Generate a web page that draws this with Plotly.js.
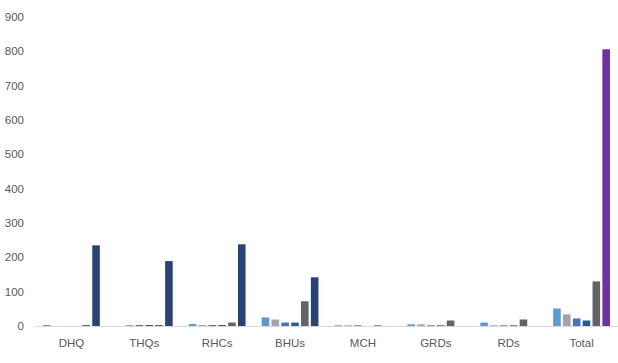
<!DOCTYPE html>
<html>
<head>
<meta charset="utf-8">
<script src="https://cdn.plot.ly/plotly-3.0.1.min.js"></script>
<style>html,body{margin:0;padding:0;background:#fff;}#chart{width:618px;height:363px;}</style>
</head>
<body>
<div id="chart"></div>
<script>
const categories = ["DHQ", "THQs", "RHCs", "BHUs", "MCH", "GRDs", "RDs", "Total"];
const series1 = [3, 0, 6, 25, 2, 5, 10, 51];
const series2 = [0, 3, 3, 19, 2, 5, 2, 34];
const series3 = [0, 3, 3, 10, 2, 2, 2, 22];
const series4 = [0, 3, 3, 10, 0, 2, 2, 16];
const series5 = [3, 3, 10, 72, 2, 16, 19, 130];
const series6 = [235, 189, 238, 142, 0, 0, 0, 806];
const yTicks = [0, 100, 200, 300, 400, 500, 600, 700, 800, 900];

const colors = ["#5B9BD5", "#A5A5A5", "#4472C4", "#255E91", "#636363"];
const allSeries = [series1, series2, series3, series4, series5];
const traces = allSeries.map((s, i) => ({
  type: "bar", x: categories, y: s, name: "S" + (i + 1),
  marker: {color: colors[i]}, hoverinfo: "none"
}));
traces.push({
  type: "bar", x: categories, y: series6, name: "S6",
  marker: {color: categories.map(c => c === "Total" ? "#7030A0" : "#264478")},
  hoverinfo: "none"
});

const layout = {
  width: 618, height: 363,
  margin: {l: 35, r: 0, t: 17, b: 36.5},
  paper_bgcolor: "#fff", plot_bgcolor: "#fff",
  barmode: "group", bargap: 0.19, bargroupgap: 0.23,
  showlegend: false,
  font: {family: "Liberation Sans, Arial, sans-serif", size: 11.5, color: "#595959"},
  xaxis: {
    showline: true, linecolor: "#D9D9D9", linewidth: 1,
    ticks: "", showgrid: false, zeroline: false,
    ticklabelstandoff: 6,
    tickfont: {size: 11.5, color: "#595959"}
  },
  yaxis: {
    range: [0, 900], tickvals: yTicks, ticktext: yTicks.map(String),
    showgrid: false, zeroline: false, showline: false, ticks: "",
    ticklabelstandoff: 10,
    tickfont: {size: 11.5, color: "#595959"}
  }
};
Plotly.newPlot("chart", traces, layout, {displayModeBar: false, staticPlot: true});
</script>
</body>
</html>
